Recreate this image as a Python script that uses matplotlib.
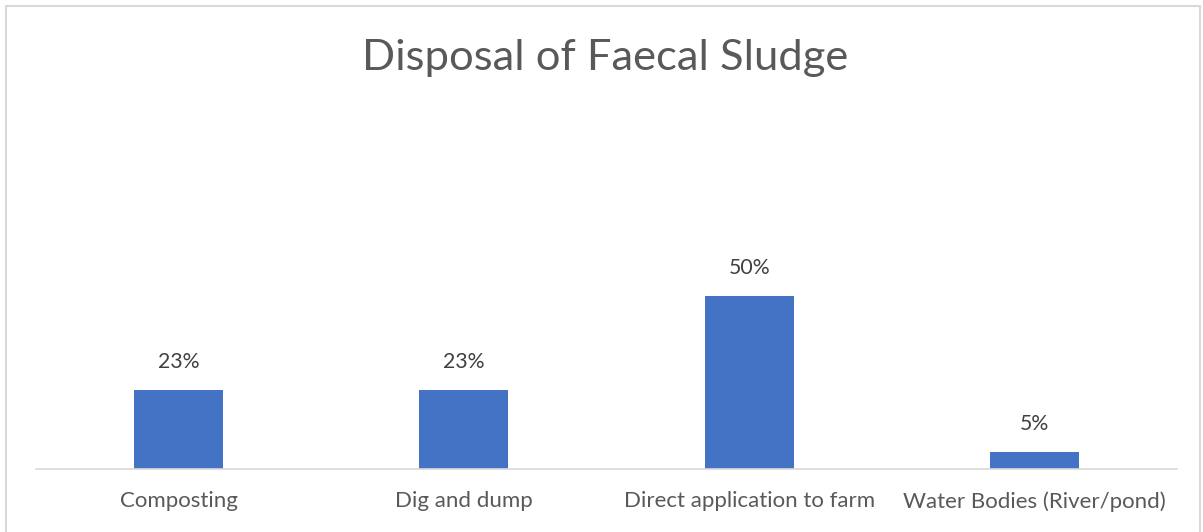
import matplotlib
matplotlib.use("Agg")
import matplotlib.pyplot as plt
from matplotlib.patches import Rectangle

categories = ["Composting", "Dig and dump", "Direct application to farm", "Water Bodies (River/pond)"]
values = [23, 23, 50, 5]
value_labels = ["23%", "23%", "50%", "5%"]
title = "Disposal of Faecal Sludge"

W, H = 1203, 532
fig = plt.figure(figsize=(W / 100, H / 100), dpi=100)
fig.patch.set_facecolor("white")

# chart frame
fig.add_artist(Rectangle((6 / W, -0.05), (1200 - 6) / W, (H - 6) / H + 0.05,
                         transform=fig.transFigure, fill=False,
                         edgecolor="#D9D9D9", linewidth=1.5))

left, right = 36 / W, 1177 / W
bottom, top = (H - 469) / H, (H - 262) / H
ax = fig.add_axes([left, bottom, right - left, top - bottom])

x = range(len(categories))
bars = ax.bar(x, values, width=0.312, color="#4472C4")
ax.set_xlim(-0.5, len(categories) - 0.5)
ax.set_ylim(0, 60)

font = "Lato"
for xi, v, lab in zip(x, values, value_labels):
    ax.annotate(lab, (xi, v), xytext=(0, 13), textcoords="offset points",
                ha="center", va="bottom", fontsize=15.3, color="#404040",
                family=font)

ax.set_xticks(list(x))
ax.set_xticklabels(categories, fontsize=16, color="#595959", family=font)
ax.tick_params(axis="x", length=0, pad=16)
ax.set_yticks([])
for s in ["top", "left", "right"]:
    ax.spines[s].set_visible(False)
ax.spines["bottom"].set_color("#D9D9D9")
ax.spines["bottom"].set_linewidth(1.2)

fig.text(605 / W, 1 - 58 / H, title, ha="center", va="center",
         fontsize=31.3, color="#595959", family=font)

fig.savefig("out.png", dpi=100)
